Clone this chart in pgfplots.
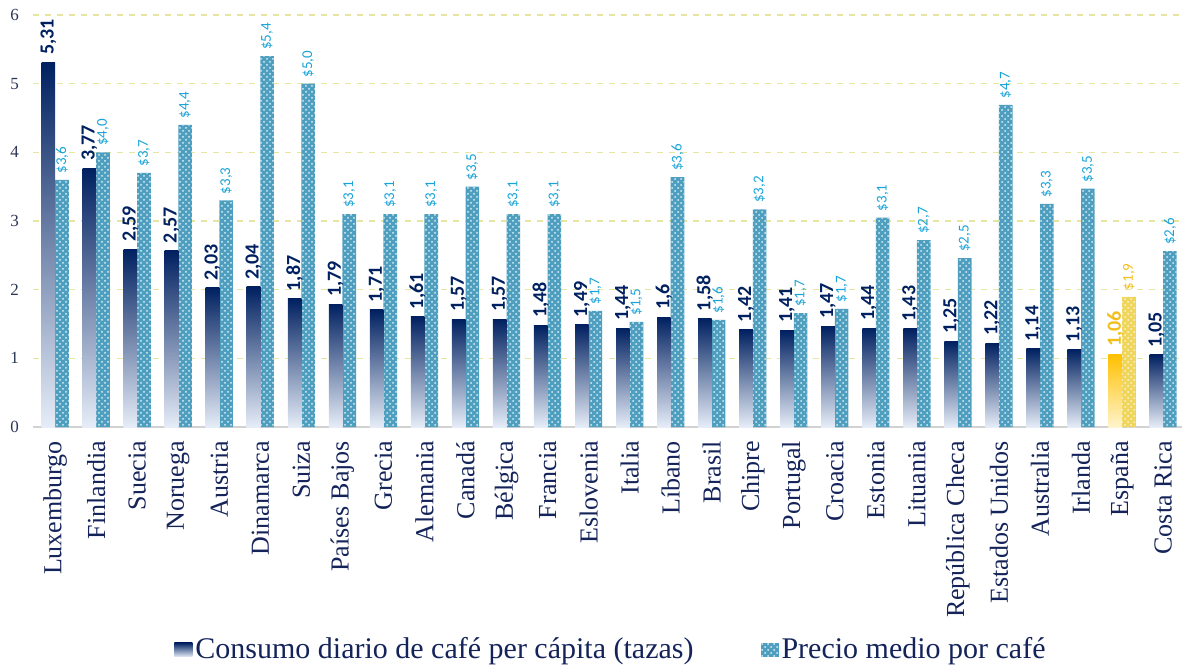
\documentclass[border=0pt]{standalone}
\usepackage{pgfplots}
\pgfplotsset{compat=1.18}
\usepackage{pgfplotstable}
\usetikzlibrary{patterns,calc}
\usepackage{fontspec}
\setmainfont{Liberation Serif}
\newfontfamily\lblfont{Carlito}

\definecolor{navy}{HTML}{002060}
\definecolor{navylight}{HTML}{E6EDF8}
\definecolor{tealbar}{HTML}{4E9FBF}
\definecolor{labelcyan}{HTML}{1AA3D8}
\definecolor{gold}{HTML}{FFC000}
\definecolor{goldlight}{HTML}{FFF4CC}
\definecolor{goldbar}{HTML}{EFD55A}
\definecolor{goldtext}{HTML}{F2BE1A}
\definecolor{gridyellow}{HTML}{E6E6A0}
\definecolor{ticktext}{HTML}{2B3556}
\definecolor{cattext}{HTML}{14245A}

% consumo = tazas por dia, precio = USD por cafe
\pgfplotstableread{
x consumo precio
0 5.31 3.60
1 3.77 4.00
2 2.59 3.70
3 2.57 4.40
4 2.03 3.30
5 2.04 5.40
6 1.87 5.00
7 1.79 3.10
8 1.71 3.10
9 1.61 3.10
10 1.57 3.50
11 1.57 3.10
12 1.48 3.10
13 1.49 1.69
14 1.44 1.53
15 1.60 3.64
16 1.58 1.56
17 1.42 3.17
18 1.41 1.66
19 1.47 1.72
20 1.44 3.05
21 1.43 2.72
22 1.25 2.46
23 1.22 4.69
24 1.14 3.25
25 1.13 3.47
26 1.06 1.90
27 1.05 2.56
}\datos

\pgfplotsset{
  sqlegend/.style={legend image code/.code={\path[##1] (0pt,-3.5pt) rectangle (9pt,3.5pt);}},
  lblcons/.style={nodes near coords={\pgfkeys{/pgf/number format/.cd,fixed,precision=2,use comma,assume math mode=true}\pgfmathprintnumber{\pgfplotspointmeta}},
    nodes near coords style={xshift=-3.4pt, rotate=90, anchor=west, inner xsep=3.5pt, inner ysep=0pt, font=\lblfont\bfseries\fontsize{10}{12}\selectfont}},
  lblprec/.style={nodes near coords={\$\pgfkeys{/pgf/number format/.cd,fixed,fixed zerofill,precision=1,use comma,assume math mode=true}\pgfmathprintnumber{\pgfplotspointmeta}},
    nodes near coords style={xshift=3.4pt, rotate=90, anchor=west, inner xsep=3pt, inner ysep=0pt, font=\lblfont\fontsize{7.5}{9}\selectfont}},
}

\begin{document}
\begin{tikzpicture}
\begin{axis}[
  scale only axis,
  width=574.5pt, height=206pt,
  xmin=-0.54, xmax=27.46,
  ymin=0, ymax=6,
  clip=false,
  axis x line*=bottom, axis y line*=left,
  x axis line style={draw=gray!35, line width=0.6pt},
  y axis line style={draw=none},
  major tick length=0pt,
  ytick={0,1,...,6},
  ymajorgrids,
  grid style={dashed, draw=gridyellow, line width=0.6pt},
  /pgf/number format/assume math mode=true,
  yticklabel style={font=\fontsize{8.5}{10}\selectfont, text=ticktext},
  yticklabel shift=3.5pt,
  xtick={0,...,27},
  xticklabels={Luxemburgo,Finlandia,Suecia,Noruega,Austria,Dinamarca,Suiza,Países Bajos,Grecia,Alemania,Canadá,Bélgica,Francia,Eslovenia,Italia,Líbano,Brasil,Chipre,Portugal,Croacia,Estonia,Lituania,República Checa,Estados Unidos,Australia,Irlanda,España,Costa Rica},
  xticklabel style={rotate=90, anchor=east, font=\fontsize{13}{15}\selectfont, text=cattext},
  xticklabel shift=3.5pt,
  legend columns=2,
  legend style={at={(0.5035,-0.541)}, anchor=center, draw=none, fill=none,
    font=\fontsize{15}{17}\selectfont, text=cattext,
    /tikz/every even column/.append style={column sep=32pt},
    nodes={inner xsep=1.5pt}},
]
\addlegendimage{sqlegend, draw=none, top color=navy, middle color=navy, bottom color=navylight}
\addlegendentry{Consumo diario de café per cápita (tazas)}

\addplot[ybar, sqlegend, bar width=6.8pt, bar shift=3.4pt, draw=none,
  fill=tealbar, postaction={pattern=crosshatch dots, pattern color=white!80!tealbar},
  skip coords between index={26}{27},
  lblprec, nodes near coords style={text=labelcyan}]
  table[x=x, y=precio]{\datos};
\addlegendentry{Precio medio por café}

% una barra por pais para que el degradado sea de cada barra
\pgfplotsinvokeforeach{0,...,25,27}{
\addplot[ybar, forget plot, bar width=6.8pt, bar shift=-3.4pt, draw=none,
  top color=navy, middle color=navy, bottom color=navylight,
  x filter/.expression={abs(x-#1)<0.1 ? x : nan},
  lblcons, nodes near coords style={text=navy}]
  table[x=x, y=consumo]{\datos};
}

% Espana resaltada
\addplot[ybar, forget plot, bar width=6.8pt, bar shift=-3.4pt, draw=none,
  top color=gold, middle color=gold, bottom color=goldlight,
  x filter/.expression={abs(x-26)<0.1 ? x : nan},
  lblcons, nodes near coords style={text=goldtext}]
  table[x=x, y=consumo]{\datos};
\addplot[ybar, forget plot, bar width=6.8pt, bar shift=3.4pt, draw=none,
  fill=goldbar, postaction={pattern=crosshatch dots, pattern color=white!75!goldbar},
  x filter/.expression={abs(x-26)<0.1 ? x : nan},
  lblprec, nodes near coords style={text=goldtext}]
  table[x=x, y=precio]{\datos};

\coordinate (bl) at (rel axis cs:0,0);
\coordinate (tr) at (rel axis cs:1,1);
\end{axis}
\pgfresetboundingbox
\path ($(bl)+(-16.5pt,-120.5pt)$) rectangle ($(tr)+(0pt,7.5pt)$);
\end{tikzpicture}
\end{document}
